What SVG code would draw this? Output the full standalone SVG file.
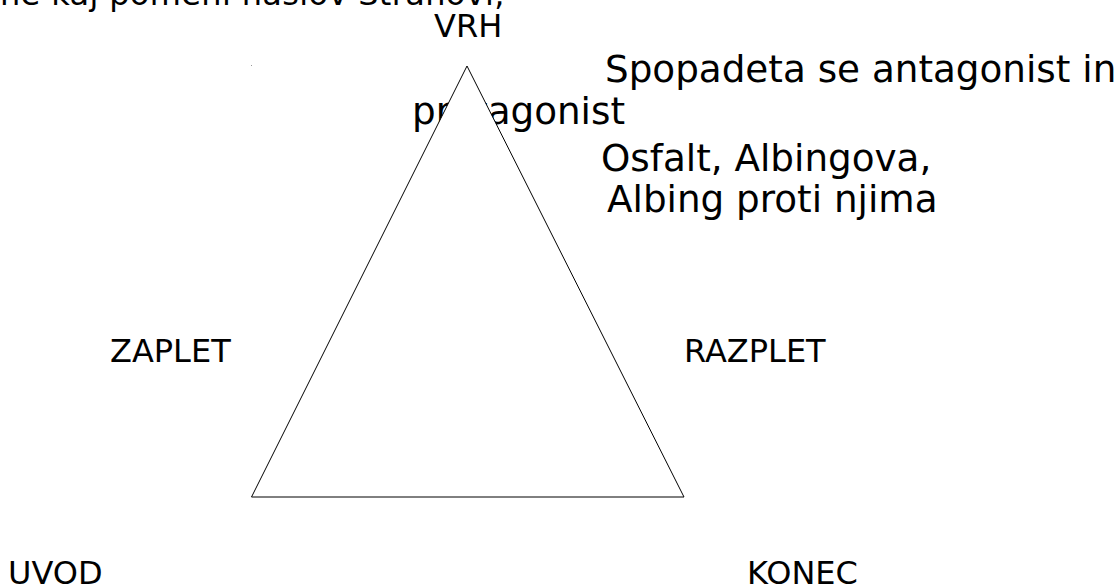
<svg xmlns="http://www.w3.org/2000/svg" width="1118" height="588" viewBox="0 0 1118 588">
<style>
text{font-family:"DejaVu Sans",sans-serif;fill:#000}
.s{font-size:32px}
.b{font-size:37.3px}
</style>
<rect width="1118" height="588" fill="#fff"/>
<g id="title"><text class="s" x="0" y="5" textLength="505" lengthAdjust="spacing">ne kaj pomeni naslov Stranovi;</text></g>
<g id="vrh-note">
<text class="b" x="605" y="82">Spopadeta se antagonist in</text>
<text class="b" x="412" y="124">protagonist</text>
<text class="b" x="601" y="171">Osfalt, Albingova,</text>
<text class="b" x="607" y="212">Albing proti njima</text>
</g>
<rect x="251" y="65" width="1" height="1" fill="#999"/>
<g id="triangle"><polygon points="467,66 251.5,497 684,497" fill="#fff" stroke="#000" stroke-width="1"/></g>
<g id="vrh"><text class="s" x="434" y="37">VRH</text></g>
<g id="zaplet"><text class="s" x="110" y="362">ZAPLET</text></g>
<g id="razplet"><text class="s" x="684" y="362">RAZPLET</text></g>
<g id="uvod"><text class="s" x="8" y="584">UVOD</text></g>
<g id="konec"><text class="s" x="747" y="584">KONEC</text></g>
</svg>
